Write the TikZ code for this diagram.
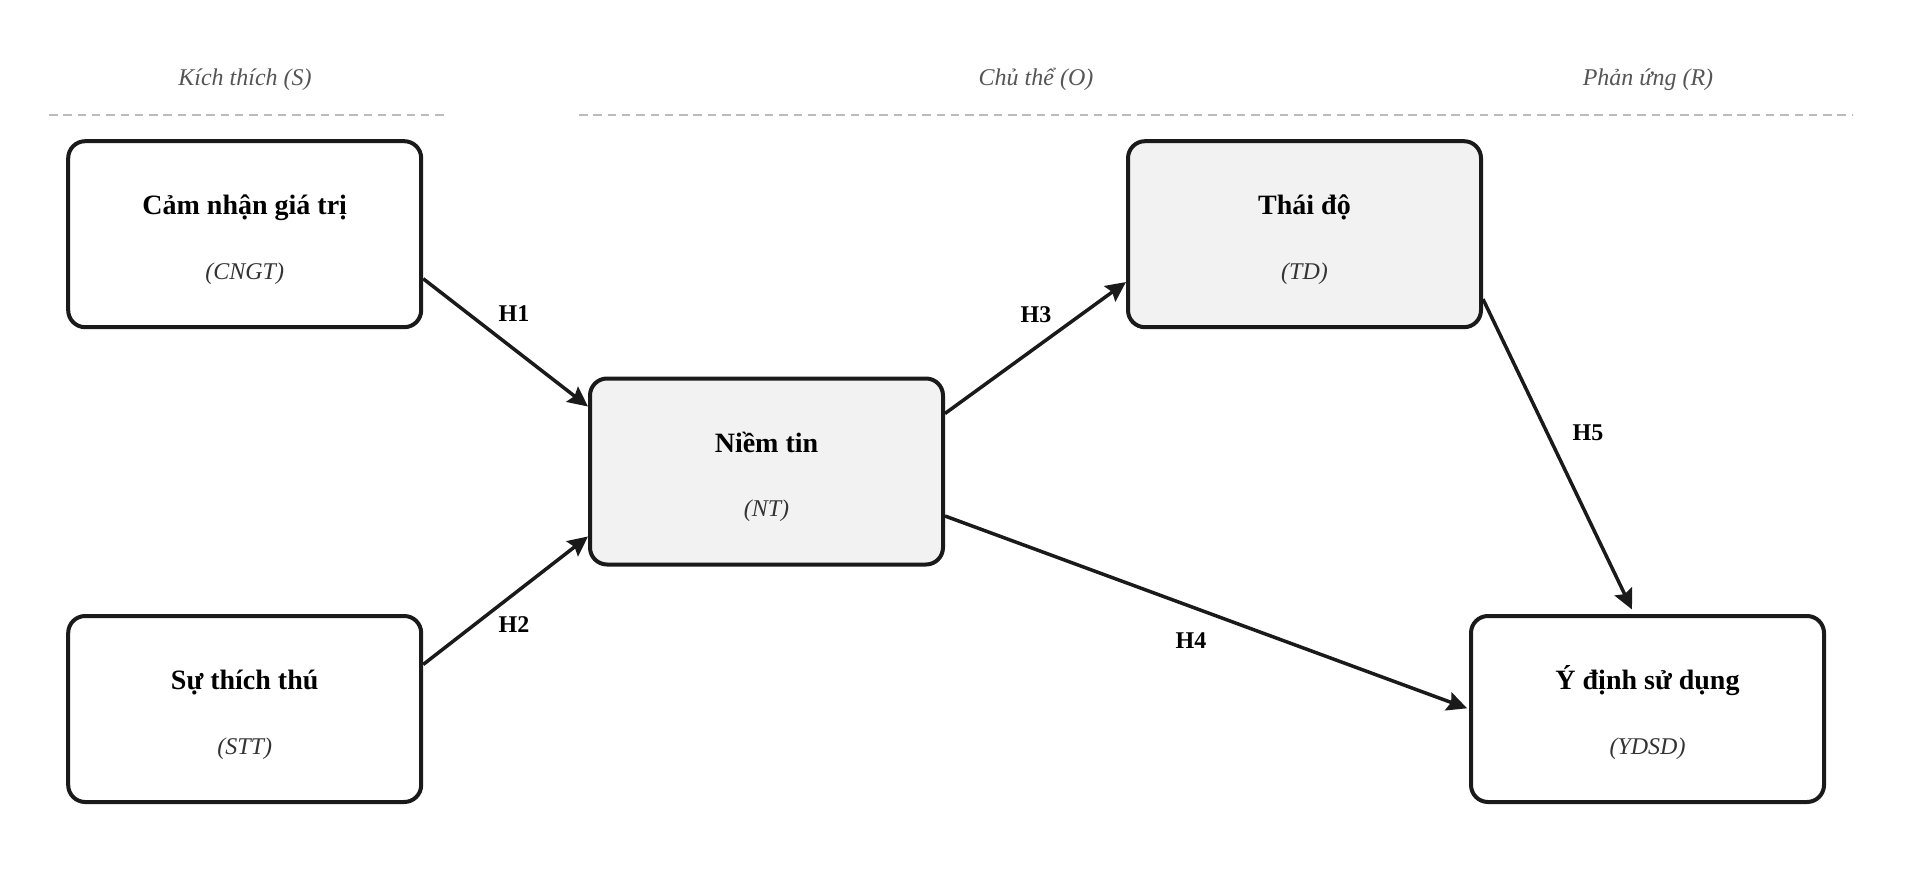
\documentclass[tikz,border=0pt]{standalone}
\usepackage{fontspec}
\setmainfont{Liberation Serif}
\usetikzlibrary{arrows.meta,calc}
\definecolor{edge}{HTML}{1A1A1A}
\definecolor{boxfill}{HTML}{F2F2F2}
\definecolor{sepline}{HTML}{BBBBBB}
\definecolor{headtext}{HTML}{555555}
\definecolor{subtext}{HTML}{333333}
\tikzset{
  varbox/.style={draw=edge, line width=4pt, rounded corners=17pt, minimum width=353pt, minimum height=186pt, inner sep=0pt},
  shaded/.style={varbox, fill=boxfill},
  plain/.style={varbox, fill=white},
  titletext/.style={anchor=base, font=\fontsize{28}{32}\selectfont\bfseries, text=black},
  subtitletext/.style={anchor=base, font=\fontsize{24}{28}\selectfont\itshape, text=subtext},
  headtextstyle/.style={anchor=base, font=\fontsize{24}{28}\selectfont\itshape, text=headtext},
  hyplabel/.style={font=\fontsize{24}{28}\selectfont\bfseries, text=black},
  conn/.style={draw=edge, line width=3.5pt, -{Stealth[length=20pt,width=19pt,inset=3pt]}},
  sep/.style={draw=sepline, line width=2pt, dash pattern=on 8.5pt off 5.8pt}
}
\begin{document}
\begin{tikzpicture}[x=1pt,y=-1pt]
\useasboundingbox (0,0) rectangle (1909,872);
% headings
\node[headtextstyle] (hS) at (245,86) {Kích thích (S)};
\node[headtextstyle] (hO) at (1036,86) {Chủ thể (O)};
\node[headtextstyle] (hR) at (1648,86) {Phản ứng (R)};
\draw[sep] (49,115) -- (447,115);
\draw[sep] (579,115) -- (1852,115);
% boxes
\node[plain]  (cngt) at (244.7,234.2) {};
\node[plain]  (stt)  at (244.7,709) {};
\node[shaded] (nt)   at (766.5,471.5) {};
\node[shaded] (td)   at (1304.5,234.2) {};
\node[plain]  (ydsd) at (1647.5,709) {};
% texts
\node[titletext] (cngtT) at ($(cngt.center)+(0,-19.5)$) {Cảm nhận giá trị};
\node[subtitletext] (cngtS) at ($(cngt.center)+(0,45)$) {(CNGT)};
\node[titletext] (sttT) at ($(stt.center)+(0,-19.5)$) {Sự thích thú};
\node[subtitletext] (sttS) at ($(stt.center)+(0,45)$) {(STT)};
\node[titletext] (ntT) at ($(nt.center)+(0,-19.5)$) {Niềm tin};
\node[subtitletext] (ntS) at ($(nt.center)+(0,45)$) {(NT)};
\node[titletext] (tdT) at ($(td.center)+(0,-19.5)$) {Thái độ};
\node[subtitletext] (tdS) at ($(td.center)+(0,45)$) {(TD)};
\node[titletext] (ydsdT) at ($(ydsd.center)+(0,-19.5)$) {Ý định sử dụng};
\node[subtitletext] (ydsdS) at ($(ydsd.center)+(0,45)$) {(YDSD)};
% connectors
\draw[conn] (cngt.-14.46) -- (nt.160.8);
\draw[conn] (stt.14.3) -- (nt.-160.8);
\draw[conn] (nt.18.04) -- (td.195.67);
\draw[conn, shorten >=2pt] (nt.-14.76) -- (ydsd.180.3);
\draw[conn, shorten >=5pt] (td.-20.36) -- (ydsd.98.9);
% labels
\node[hyplabel] (l1) at (514,314) {H1};
\node[hyplabel] (l2) at (514,625) {H2};
\node[hyplabel] (l3) at (1036,315) {H3};
\node[hyplabel] (l4) at (1191,641) {H4};
\node[hyplabel] (l5) at (1588,433) {H5};
\end{tikzpicture}
\end{document}
